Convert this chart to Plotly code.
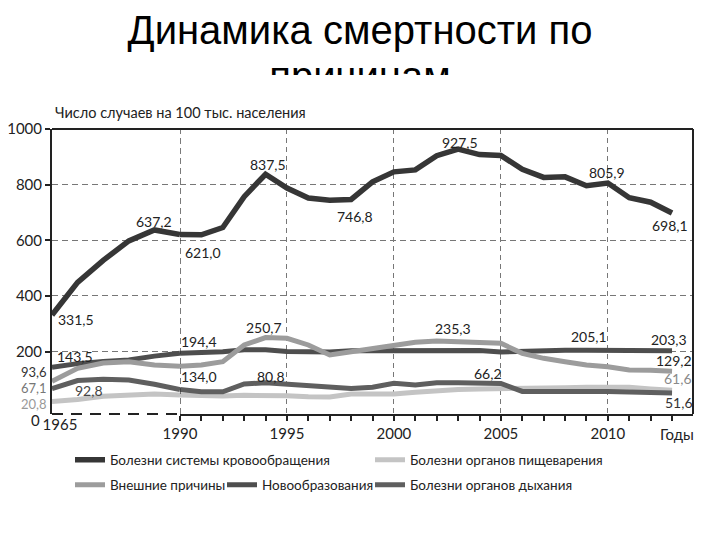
import plotly.graph_objects as go

# ---------------- data ----------------
YEARS = [1965, 1970, 1975, 1980, 1985,
         1990, 1991, 1992, 1993, 1994, 1995, 1996, 1997, 1998, 1999,
         2000, 2001, 2002, 2003, 2004, 2005, 2006, 2007, 2008, 2009,
         2010, 2011, 2012, 2013]

CARDIO = [331.5, 449, 528, 598, 637.2,
          621.0, 620, 646, 757, 837.5, 788, 752, 744, 746.8, 810,
          846, 853, 904, 927.5, 908, 905, 855, 826, 828, 796,
          805.9, 753, 737, 698.1]
DIGESTIVE = [20.8, 28, 40, 46, 48,
             44, 42, 41, 43, 44, 42, 38, 37, 48, 46,
             48, 54, 60, 64, 66, 66.2, 68, 68, 70, 72,
             72, 72, 66, 61.6]
EXTERNAL = [93.6, 140, 159, 164, 152,
            148, 152, 164, 224, 250.7, 248, 224, 188, 200, 212,
            226, 234, 238, 235.3, 232, 230, 194, 176, 164, 152,
            146, 134, 133, 129.2]
NEOPLASMS = [143.5, 157, 165, 170, 184,
             194.4, 196, 200, 207, 207, 201, 199, 199, 203, 203,
             206, 206, 206, 207, 204, 199, 201, 206, 205, 205,
             205.1, 205, 204, 203.3]
RESPIRATORY = [67.1, 96, 101, 98, 83,
               64, 56, 56, 84, 88, 84, 78, 74, 68, 72,
               86, 80, 88, 88, 86, 86, 57, 58, 58, 57,
               57, 55, 52, 51.6]

NAMES = ["Болезни системы кровообращения", "Болезни органов пищеварения",
         "Внешние причины", "Новообразования", "Болезни органов дыхания"]

Y_TICKS = [200, 400, 600, 800, 1000]
BREAK_YEAR = 1990

# value labels: (text, axis, x, y, color)
LABELS = [
    ("331,5", "x", 1969.7, 314, "#222"),
    ("637,2", "x", 1984.9, 666, "#222"),
    ("621,0", "x2", 1991.08, 558, "#222"),
    ("837,5", "x2", 1994.12, 871, "#222"),
    ("746,8", "x2", 1998.2, 684, "#222"),
    ("927,5", "x2", 2003.07, 950, "#222"),
    ("805,9", "x2", 2009.95, 842, "#222"),
    ("698,1", "x2", 2012.9, 655, "#222"),
    ("143,5", "x", 1969.5, 181, "#222"),
    ("92,8", "x", 1972.2, 62, "#444"),
    ("194,4", "x2", 1990.89, 235, "#222"),
    ("134,0", "x2", 1990.89, 109, "#222"),
    ("250,7", "x2", 1993.93, 288, "#222"),
    ("80,8", "x2", 1994.26, 109, "#222"),
    ("235,3", "x2", 2002.74, 285, "#222"),
    ("66,2", "x2", 2004.38, 120, "#222"),
    ("205,1", "x2", 2009.11, 253, "#222"),
    ("203,3", "x2", 2012.86, 245, "#222"),
    ("129,2", "x2", 2013.09, 170, "#222"),
    ("61,6", "x2", 2013.27, 102, "#8a8a8a"),
    ("51,6", "x2", 2013.32, 19, "#333"),
]
# labels left of the axis: (text, screen y, color)
LEFT_LABELS = [("93,6", 372, "#333"), ("67,1", 388, "#777"), ("20,8", 404, "#999")]

FONT = "Lato, Roboto, sans-serif"
TITLE_FONT = "Liberation Sans, Arial, sans-serif"

# page body has an 8px margin: screen px = figure px + 8
OFF = 8
W, H = 720, 540
PLOT_L, PLOT_R, PLOT_T, PLOT_B = 52, 693, 129, 414   # screen px of the plot frame
M_L = PLOT_L - OFF
M_R = W - (PLOT_R - OFF)
M_T = 0
M_B = H - (PLOT_B - OFF)
PAPER_H = (PLOT_B - OFF) - M_T


def py(Y):  # screen y -> paper y
    return (PLOT_B - Y) / PAPER_H


def px(X):  # screen x -> paper x
    return (X - PLOT_L) / (PLOT_R - PLOT_L)


def cx(X):
    return (X - OFF) / W


def cy(Y):
    return 1 - (Y - OFF) / H


# ---------------- figure ----------------
fig = go.Figure()

styles = {
    NAMES[0]: dict(values=CARDIO, color="#363636", width=5.5, legend="legend"),
    NAMES[1]: dict(values=DIGESTIVE, color="#c4c4c4", width=5, legend="legend2"),
    NAMES[2]: dict(values=EXTERNAL, color="#9c9c9c", width=5, legend="legend3"),
    NAMES[3]: dict(values=NEOPLASMS, color="#4e4e4e", width=5, legend="legend4"),
    NAMES[4]: dict(values=RESPIRATORY, color="#5f5f5f", width=5, legend="legend5"),
}
draw_order = [NAMES[1], NAMES[4], NAMES[3], NAMES[2], NAMES[0]]

early_idx = [i for i, y in enumerate(YEARS) if y <= BREAK_YEAR]
late_idx = [i for i, y in enumerate(YEARS) if y >= BREAK_YEAR]

for name in draw_order:
    s = styles[name]
    vals = s["values"]
    fig.add_trace(go.Scatter(
        x=[YEARS[i] for i in early_idx], y=[vals[i] for i in early_idx],
        mode="lines", line=dict(color=s["color"], width=s["width"]),
        xaxis="x", yaxis="y", showlegend=False, hoverinfo="skip", name=name))
    fig.add_trace(go.Scatter(
        x=[YEARS[i] for i in late_idx], y=[vals[i] for i in late_idx],
        mode="lines", line=dict(color=s["color"], width=s["width"]),
        xaxis="x2", yaxis="y", showlegend=True, legend=s["legend"], name=name))

# clipped second title line (partly hidden behind the chart, as on the slide)
fig.add_trace(go.Scatter(
    x=[360], y=[80], mode="text", text=["причинам"],
    textfont=dict(family=TITLE_FONT, size=40, color="black"),
    xaxis="x3", yaxis="y3", cliponaxis=True, showlegend=False, hoverinfo="skip"))

D = (180 - PLOT_L) / (PLOT_R - PLOT_L)

fig.update_layout(
    width=W, height=H,
    margin=dict(l=M_L, r=M_R, t=M_T, b=M_B, autoexpand=False),
    paper_bgcolor="white", plot_bgcolor="white",
    font=dict(family=FONT, size=15, color="#222"),
    title=dict(text="Динамика смертности по", x=cx(360), xanchor="center",
               y=cy(30), yanchor="middle", yref="container", xref="container",
               font=dict(family=TITLE_FONT, size=40, color="black")),
    xaxis=dict(domain=[0, D], range=[1965, 1990], anchor="y",
               tickvals=[1965], ticktext=["1965"], ticks="", showline=False,
               showgrid=False, zeroline=False, ticklabelshift=8,
               tickfont=dict(size=15, color="#222")),
    xaxis2=dict(domain=[D, 1], range=[1990, 2013.98], anchor="y",
                tick0=1990, dtick=5, ticks="outside", ticklen=5, tickwidth=1.5,
                tickcolor="#222", showline=True, linecolor="#222", linewidth=2,
                showgrid=True, gridcolor="#777", gridwidth=1, griddash="5px,4px",
                zeroline=False, tickfont=dict(size=15, color="#222"),
                minor=dict(dtick=1, tick0=1990, ticks="outside", ticklen=5,
                           tickwidth=1.5, tickcolor="#222", showgrid=False)),
    yaxis=dict(domain=[0, py(PLOT_T)], range=[-24, 1000], anchor="x",
               tickvals=Y_TICKS, ticks="outside", ticklen=5, tickwidth=1.5,
               tickcolor="#222", showline=True, linecolor="#222", linewidth=2,
               showgrid=True, gridcolor="#777", gridwidth=1, griddash="6px,4px",
               zeroline=False, tickfont=dict(size=15, color="#222")),
    xaxis3=dict(domain=[0, 1], range=[PLOT_L, PLOT_R], visible=False, anchor="y3"),
    yaxis3=dict(domain=[py(75), 1], range=[75, OFF], visible=False, anchor="x3"),
    showlegend=True,
)

leg_common = dict(orientation="h", xanchor="left", yanchor="middle",
                  xref="container", yref="container",
                  bgcolor="rgba(0,0,0,0)", borderwidth=0, itemwidth=30,
                  font=dict(size=13.5, color="#222"))
fig.update_layout(
    legend=dict(x=cx(70), y=cy(460), **leg_common),
    legend2=dict(x=cx(370), y=cy(460), **leg_common),
    legend3=dict(x=cx(70), y=cy(485), **leg_common),
    legend4=dict(x=cx(222), y=cy(485), **leg_common),
    legend5=dict(x=cx(370), y=cy(485), **leg_common),
)

shapes = [
    dict(type="line", xref="x2", x0=BREAK_YEAR, x1=BREAK_YEAR, yref="y domain", y0=0, y1=1,
         line=dict(color="#333", width=1.3, dash="6px,4px")),
    dict(type="line", xref="x", x0=1965, x1=BREAK_YEAR, yref="y domain", y0=0, y1=0,
         line=dict(color="#222", width=2, dash="11px,8px")),
    dict(type="line", xref="paper", x0=0, x1=1, yref="y domain", y0=1, y1=1,
         line=dict(color="#222", width=2)),
    dict(type="line", xref="paper", x0=1, x1=1, yref="y domain", y0=0, y1=1,
         line=dict(color="#222", width=2)),
]
fig.update_layout(shapes=shapes)

ann = []
for text, ax, x, y, color in LABELS:
    ann.append(dict(text=text, xref=ax, yref="y", x=x, y=y, showarrow=False,
                    font=dict(size=14, color=color), xanchor="center", yanchor="middle"))
for text, Y, color in LEFT_LABELS:
    ann.append(dict(text=text, xref="paper", yref="paper", x=px(49), y=py(Y), showarrow=False,
                    font=dict(size=13, color=color), xanchor="right", yanchor="middle"))
ann.append(dict(text="0", xref="paper", yref="paper", x=px(42), y=py(420),
                showarrow=False, font=dict(size=15, color="#222"),
                xanchor="right", yanchor="middle"))
ann.append(dict(text="Годы", xref="x2", yref="paper", x=2013.23, y=py(434),
                showarrow=False, font=dict(size=15, color="#222"),
                xanchor="center", yanchor="middle"))
ann.append(dict(text="Число случаев на 100 тыс. населения", xref="paper", yref="paper",
                x=px(53), y=py(113), showarrow=False,
                font=dict(size=14.5, color="#222"), xanchor="left", yanchor="middle"))
fig.update_layout(annotations=ann)

fig.write_html("out.html")
